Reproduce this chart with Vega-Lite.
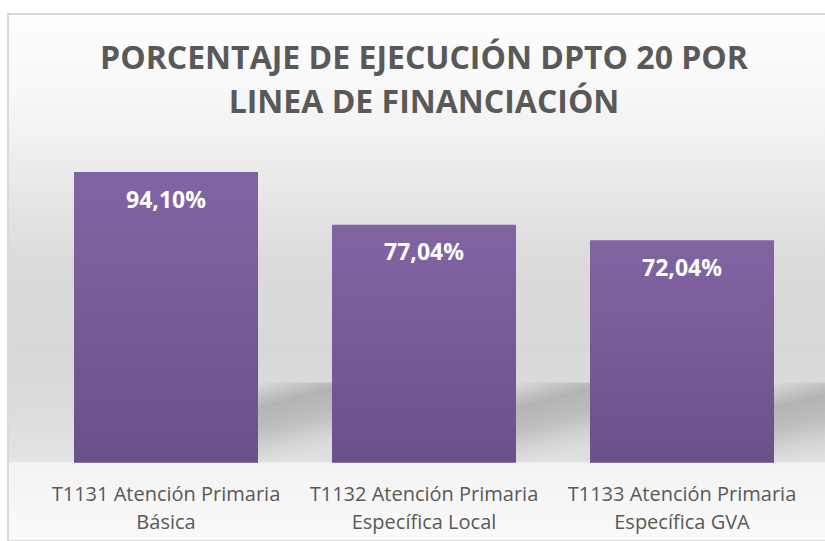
{
  "$schema": "https://vega.github.io/schema/vega-lite/v6.json",
  "width": 832,
  "height": 527,
  "autosize": {"type": "none"},
  "padding": {"left": 8, "top": 14, "right": 0, "bottom": 0},
  "background": "#ffffff",
  "config": {
    "view": {
      "stroke": "#d9d9d9",
      "strokeWidth": 2,
      "fill": {
        "gradient": "linear", "x1": 0, "y1": 0, "x2": 0, "y2": 1,
        "stops": [
          {"offset": 0, "color": "#fefefe"},
          {"offset": 0.163, "color": "#f7f7f7"},
          {"offset": 0.277, "color": "#ededed"},
          {"offset": 0.467, "color": "#dbdbdb"},
          {"offset": 0.638, "color": "#d8d8d8"},
          {"offset": 0.77, "color": "#dddddd"},
          {"offset": 0.848, "color": "#e4e4e4"},
          {"offset": 0.852, "color": "#f3f3f3"},
          {"offset": 1, "color": "#fafafa"}
        ]
      }
    }
  },
  "title": {
    "text": ["PORCENTAJE DE EJECUCIÓN DPTO 20 POR", "LINEA DE FINANCIACIÓN"],
    "font": "Open Sans",
    "fontSize": 32,
    "fontWeight": "bold",
    "color": "#595959",
    "lineHeight": 44,
    "anchor": "middle",
    "baseline": "alphabetic",
    "offset": -131
  },
  "data": {
    "values": [
      {"cat": "T1131 Atención Primaria\nBásica", "value": 94.10, "pct": "94,10%"},
      {"cat": "T1132 Atención Primaria\nEspecífica Local", "value": 77.04, "pct": "77,04%"},
      {"cat": "T1133 Atención Primaria\nEspecífica GVA", "value": 72.04, "pct": "72,04%"}
    ]
  },
  "encoding": {
    "x": {
      "field": "cat", "type": "nominal", "sort": null, "axis": null,
      "scale": {"paddingInner": 0.2868, "paddingOuter": 0.2558}
    }
  },
  "layer": [
    {
      "mark": {
        "type": "bar",
        "width": 76,
        "xOffset": 130,
        "color": {
          "gradient": "linear", "x1": 0, "y1": 0, "x2": 0.25, "y2": 1,
          "stops": [
            {"offset": 0, "color": "rgba(140,140,140,0)"},
            {"offset": 0.3, "color": "rgba(140,140,140,0.5)"},
            {"offset": 0.55, "color": "rgba(140,140,140,0.4)"},
            {"offset": 0.85, "color": "rgba(140,140,140,0.12)"},
            {"offset": 1, "color": "rgba(140,140,140,0.05)"}
          ]
        }
      },
      "encoding": {
        "y": {
          "datum": 26, "type": "quantitative", "axis": null,
          "scale": {"domain": [-25.35, 145.26], "nice": false, "zero": false}
        },
        "y2": {"datum": 0}
      }
    },
    {
      "mark": {
        "type": "bar",
        "color": {
          "gradient": "linear", "x1": 0, "y1": 0, "x2": 0, "y2": 1,
          "stops": [
            {"offset": 0, "color": "#8165a3"},
            {"offset": 1, "color": "#6a5189"}
          ]
        }
      },
      "encoding": {
        "y": {
          "field": "value", "type": "quantitative", "axis": null,
          "scale": {"domain": [-25.35, 145.26], "nice": false, "zero": false}
        }
      }
    },
    {
      "mark": {
        "type": "text", "font": "Open Sans", "fontSize": 23, "fontWeight": "bold",
        "color": "#ffffff", "baseline": "middle", "dy": 28.5
      },
      "encoding": {
        "y": {"field": "value", "type": "quantitative"},
        "text": {"field": "pct"}
      }
    },
    {
      "mark": {
        "type": "text", "font": "Open Sans", "fontSize": 20,
        "color": "#595959", "baseline": "alphabetic", "dy": 38,
        "lineBreak": "\n", "lineHeight": 28
      },
      "encoding": {
        "y": {"datum": 0, "type": "quantitative"},
        "text": {"field": "cat"}
      }
    }
  ]
}
